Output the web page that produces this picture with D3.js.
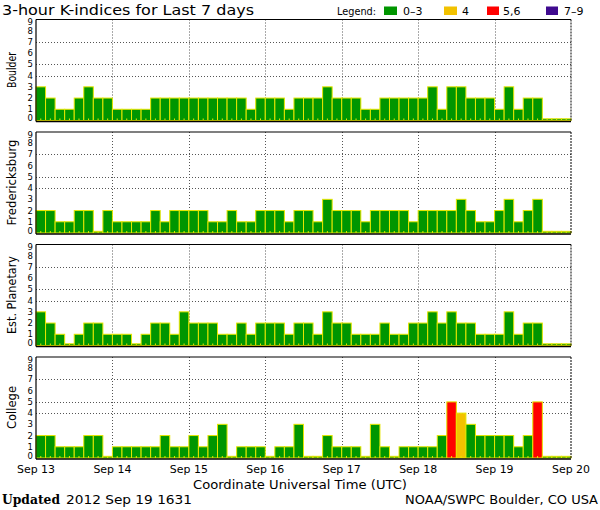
<!DOCTYPE html>
<html>
<head>
<meta charset="utf-8">
<script src="https://cdn.jsdelivr.net/npm/d3@7"></script>
<style>
  html, body { margin: 0; padding: 0; background: #fff; }
  svg { display: block; }
  text { font-family: "DejaVu Sans", sans-serif; fill: #000; }
</style>
</head>
<body>
<script>
// ---- data ----
const stations = ["Boulder", "Fredericksburg", "Est. Planetary", "College"];
const boulder = [3,2,1,1,2,3,2,2, 1,1,1,1,2,2,2,2, 2,2,2,2,2,2,1,2, 2,2,1,2,2,2,3,2, 2,2,1,1,2,2,2,2, 2,3,1,3,3,2,2,2, 1,3,1,2,2,0,0,0];
const fredericksburg = [2,2,1,1,2,2,0,2, 1,1,1,1,2,1,2,2, 2,2,1,1,2,1,1,2, 2,2,1,2,2,1,3,2, 2,2,1,2,2,2,2,1, 2,2,2,2,3,2,1,1, 2,3,1,2,3,0,0,0];
const planetary = [3,2,1,0,1,2,2,1, 1,1,0,1,2,2,1,3, 2,2,2,1,1,2,1,2, 2,2,1,2,2,1,3,2, 2,1,1,1,2,1,1,2, 2,3,2,3,2,2,1,1, 1,3,1,2,2,0,0,0];
const college = [2,2,1,1,1,2,2,0, 1,1,1,1,1,2,1,1, 2,1,2,3,0,1,1,1, 0,1,1,3,0,0,2,1, 1,1,0,3,1,0,1,1, 1,1,2,5,4,3,2,2, 2,2,1,2,5,0,0,0];
const dayLabels = ["Sep 13","Sep 14","Sep 15","Sep 16","Sep 17","Sep 18","Sep 19","Sep 20"];
const yTicks = [0,1,2,3,4,5,6,7,8,9];
const gridLevels = [4,5,7];
const legendLabels = ["0\u20133","4","5,6","7\u20139"];
const legendColors = ["#009600","#f2c200","#ff0000","#3f0a8f"];
const seriesList = [boulder, fredericksburg, planetary, college];

// ---- layout ----
const W = 600, H = 510;
const left = 36, right = 571;
const panelTop0 = 19.5, panelStep = 112.5, panelH = 101;

const svg = d3.select("body").append("svg").attr("width", W).attr("height", H);

const x = d3.scaleLinear().domain([0, 56]).range([left, right]);
const barColor = v => v <= 3 ? legendColors[0] : v === 4 ? legendColors[1] : v <= 6 ? legendColors[2] : legendColors[3];

// title
svg.append("text").attr("x", 2).attr("y", 15).attr("font-size", 14.5)
  .attr("textLength", 252).attr("lengthAdjust", "spacingAndGlyphs")
  .text("3-hour K-indices for Last 7 days");

// legend
svg.append("text").attr("x", 337).attr("y", 15).attr("font-size", 11)
  .attr("textLength", 39).attr("lengthAdjust", "spacingAndGlyphs").text("Legend:");
const legX = [384, 444, 487, 546];
const legW = [13, 13, 12, 12];
const legTX = [403, 462, 503, 564];
legendLabels.forEach((lab, i) => {
  svg.append("rect").attr("x", legX[i]).attr("y", 6.5).attr("width", legW[i]).attr("height", 8.5).attr("fill", legendColors[i]);
  svg.append("text").attr("x", legTX[i]).attr("y", 15).attr("font-size", 11).text(lab);
});

seriesList.forEach((vals, p) => {
  const top = panelTop0 + p * panelStep;
  const bottom = top + panelH;
  const y = d3.scaleLinear().domain([0, 9]).range([bottom, top]);
  const g = svg.append("g");

  // grid lines (dotted)
  g.selectAll("line.hg").data(gridLevels).join("line")
    .attr("x1", left).attr("x2", right).attr("y1", d => Math.round(y(d)) + 0.5).attr("y2", d => Math.round(y(d)) + 0.5)
    .attr("stroke", "#555").attr("stroke-width", 1).attr("stroke-dasharray", "1,2");
  g.selectAll("line.vg").data(d3.range(1, 7)).join("line")
    .attr("x1", d => Math.round(x(d * 8)) + 0.5).attr("x2", d => Math.round(x(d * 8)) + 0.5)
    .attr("y1", top).attr("y2", bottom)
    .attr("stroke", "#555").attr("stroke-width", 1).attr("stroke-dasharray", "1,2");

  // bars
  g.selectAll("rect.bar").data(vals).join("rect")
    .attr("x", (d, i) => x(i))
    .attr("width", x(1) - x(0))
    .attr("y", d => y(Math.max(d, 0.15)))
    .attr("height", d => bottom - y(Math.max(d, 0.15)))
    .attr("fill", d => barColor(d))
    .attr("stroke", "#e6e600").attr("stroke-width", 1);

  // small minor ticks at baseline
  g.selectAll("line.mt").data(d3.range(0, 56)).join("line")
    .attr("x1", d => x(d + 0.5)).attr("x2", d => x(d + 0.5))
    .attr("y1", bottom).attr("y2", bottom - 2)
    .attr("stroke", "#e6e600").attr("stroke-width", 1);

  // frame
  g.append("line").attr("x1", left).attr("x2", right).attr("y1", top).attr("y2", top).attr("stroke", "#000").attr("stroke-width", 1.2);
  g.append("line").attr("x1", left).attr("x2", left).attr("y1", top).attr("y2", bottom + 1).attr("stroke", "#000").attr("stroke-width", 1.2);
  g.append("line").attr("x1", right).attr("x2", right).attr("y1", top).attr("y2", bottom).attr("stroke", "#000").attr("stroke-width", 1).attr("stroke-dasharray", "2,1");
  g.append("line").attr("x1", left).attr("x2", right).attr("y1", bottom + 1).attr("y2", bottom + 1).attr("stroke", "#000").attr("stroke-width", 1.6);

  // y tick labels
  g.selectAll("text.yt").data(yTicks).join("text")
    .attr("x", 33).attr("text-anchor", "end").attr("font-size", 8.5)
    .attr("y", d => Math.min(Math.max(y(d), top + 2.5), bottom - 2.5) + 3)
    .text(d => d);

  // station label
  const cy = top + panelH / 2;
  const lens = [36, 86, 78, 43];
  g.append("text")
    .attr("transform", `translate(15.5,${cy}) rotate(-90)`)
    .attr("text-anchor", "middle").attr("font-size", 13)
    .attr("textLength", lens[p]).attr("lengthAdjust", "spacingAndGlyphs")
    .text(stations[p]);
});

// x labels
svg.selectAll("text.xl").data(dayLabels).join("text")
  .attr("x", (d, i) => x(i * 8)).attr("y", 473).attr("text-anchor", "middle")
  .attr("font-size", 11).attr("textLength", 38).attr("lengthAdjust", "spacingAndGlyphs")
  .text(d => d);

svg.append("text").attr("x", 300).attr("y", 489).attr("text-anchor", "middle")
  .attr("font-size", 13).attr("textLength", 214).attr("lengthAdjust", "spacingAndGlyphs")
  .text("Coordinate Universal Time (UTC)");

// footer
svg.append("text").attr("x", 2).attr("y", 504).attr("font-size", 13.5)
  .style("font-family", "'DejaVu Serif', serif").attr("font-weight", "bold")
  .attr("textLength", 58).attr("lengthAdjust", "spacingAndGlyphs").text("Updated");
svg.append("text").attr("x", 66).attr("y", 504).attr("font-size", 13)
  .attr("textLength", 126).attr("lengthAdjust", "spacingAndGlyphs").text("2012 Sep 19 1631");
svg.append("text").attr("x", 598).attr("y", 504).attr("text-anchor", "end").attr("font-size", 13)
  .attr("textLength", 193).attr("lengthAdjust", "spacingAndGlyphs").text("NOAA/SWPC Boulder, CO USA");
</script>
</body>
</html>
